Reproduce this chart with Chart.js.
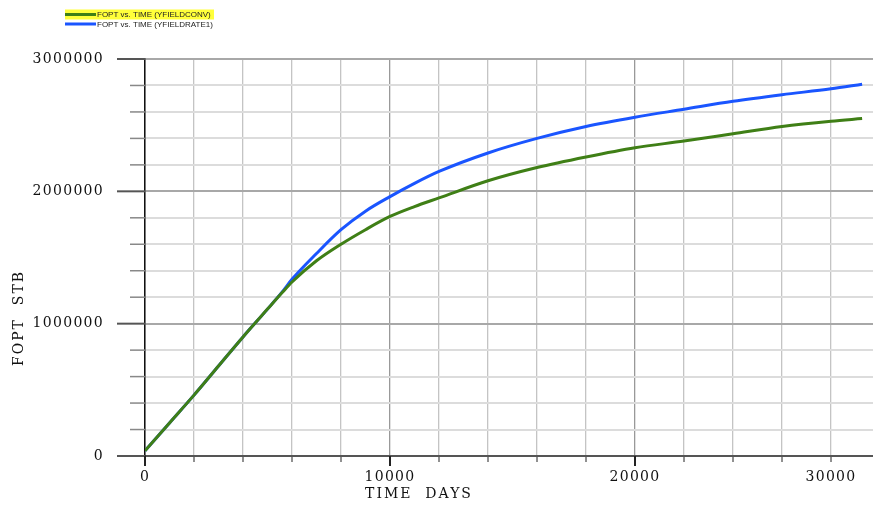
<!DOCTYPE html>
<html>
<head>
<meta charset="utf-8">
<script src="https://cdn.jsdelivr.net/npm/chart.js@4.4.1/dist/chart.umd.min.js"></script>
<style>
  html, body { margin: 0; padding: 0; background: #fff; }
</style>
</head>
<body>
<canvas id="fopt" width="873" height="510"></canvas>
<script>
// time in days
const days = [0, 1000, 2000, 3000, 4000, 5000, 5600, 6000, 7000, 8000, 9000, 10000, 11000, 12000,
  14000, 16000, 18000, 20000, 22000, 24000, 26000, 28000, 29270];
const foptConv = [40000, 250000, 460000, 680000, 900000, 1110000, 1235000, 1315000, 1475000, 1600000,
  1710000, 1810000, 1885000, 1950000, 2080000, 2180000, 2260000, 2330000, 2380000, 2435000, 2490000,
  2530000, 2550000];
const foptRate1 = [40000, 250000, 460000, 680000, 900000, 1110000, 1240000, 1335000, 1530000, 1710000,
  1850000, 1960000, 2060000, 2150000, 2290000, 2400000, 2490000, 2560000, 2620000, 2680000, 2730000,
  2775000, 2810000];

const seriesNames = ['FOPT vs. TIME (YFIELDCONV)', 'FOPT vs. TIME (YFIELDRATE1)'];
const seriesColors = ['#3f7f16', '#1a55ff'];

const xTicks = [0, 2000, 4000, 6000, 8000, 10000, 12000, 14000, 16000, 18000, 20000, 22000, 24000, 26000, 28000];
const xTickLabels = ['0', '', '', '', '', '10000', '', '', '', '', '20000', '', '', '', '30000'];
const yTicks = [0, 200000, 400000, 600000, 800000, 1000000, 1200000, 1400000, 1600000, 1800000,
  2000000, 2200000, 2400000, 2600000, 2800000, 3000000];
const yTickLabels = ['0', '', '', '', '', '1000000', '', '', '', '', '2000000', '', '', '', '', '3000000'];

const serif = "'DejaVu Serif', serif";

function spacing(chart) {
  chart.ctx.letterSpacing = '1.3px';
}

const extras = {
  id: 'extras',
  beforeUpdate: spacing,
  beforeLayout: spacing,
  beforeDraw: spacing,
  afterDraw(chart) {
    const ctx = chart.ctx;
    const xs = chart.scales.x, ys = chart.scales.y;
    const area = chart.chartArea;
    ctx.save();
    // y tick marks
    yTicks.forEach(v => {
      const y = ys.getPixelForValue(v);
      const major = v % 1000000 === 0;
      ctx.beginPath();
      ctx.strokeStyle = major ? '#555' : '#888';
      ctx.lineWidth = major ? 2 : 1.5;
      ctx.moveTo(major ? area.left - 28 : area.left - 15, y);
      ctx.lineTo(area.left, y);
      ctx.stroke();
    });
    // x tick marks
    xTicks.forEach(v => {
      const x = xs.getPixelForValue(v);
      const major = v % 10000 === 0;
      ctx.beginPath();
      ctx.strokeStyle = major ? '#222' : '#555';
      ctx.lineWidth = major ? 2 : 1.3;
      ctx.moveTo(x, area.bottom);
      ctx.lineTo(x, area.bottom + (major ? 10 : 6));
      ctx.stroke();
    });

    // axis titles
    ctx.fillStyle = '#111';
    ctx.font = '14px ' + serif;
    ctx.letterSpacing = '2px';
    ctx.textAlign = 'center';
    ctx.textBaseline = 'middle';
    ctx.fillText('TIME  DAYS', 419, 494);
    ctx.save();
    ctx.translate(19, 318);
    ctx.rotate(-Math.PI / 2);
    ctx.fillText('FOPT  STB', 0, 0);
    ctx.restore();

    // legend
    ctx.letterSpacing = '0px';
    ctx.fillStyle = '#ffff3a';
    ctx.fillRect(65, 9.5, 149, 10);
    ctx.font = "8px 'Liberation Sans', Arial, sans-serif";
    ctx.textAlign = 'left';
    [14.5, 24].forEach((y, i) => {
      ctx.beginPath();
      ctx.strokeStyle = seriesColors[i];
      ctx.lineWidth = 3;
      ctx.moveTo(65, y);
      ctx.lineTo(96, y);
      ctx.stroke();
      ctx.fillStyle = '#222';
      ctx.fillText(seriesNames[i], 97, y + 0.5);
    });
    ctx.restore();
  }
};

new Chart(document.getElementById('fopt'), {
  type: 'line',
  data: {
    labels: days,
    datasets: [{
      label: seriesNames[0],
      data: days.map((d, i) => ({ x: d, y: foptConv[i] })),
      borderColor: seriesColors[0],
      borderWidth: 3,
      pointRadius: 0,
      cubicInterpolationMode: 'monotone'
    }, {
      label: seriesNames[1],
      data: days.map((d, i) => ({ x: d, y: foptRate1[i] })),
      borderColor: seriesColors[1],
      borderWidth: 3,
      pointRadius: 0,
      cubicInterpolationMode: 'monotone'
    }]
  },
  options: {
    responsive: false,
    animation: false,
    layout: {
      padding: { top: 59, left: 0, right: 0, bottom: 0 }
    },
    plugins: {
      legend: { display: false },
      tooltip: { enabled: false }
    },
    scales: {
      x: {
        type: 'linear',
        min: 0,
        max: 29714,
        afterBuildTicks: s => { s.ticks = xTicks.map(v => ({ value: v })); },
        afterFit: s => { s.height = 54; },
        grid: {
          drawTicks: false,
          color: c => c.tick && c.tick.value % 10000 === 0 ? '#999' : '#c4c4c4',
          lineWidth: 1.3
        },
        border: { color: '#555', width: 2 },
        ticks: {
          padding: 13,
          autoSkip: false,
          maxRotation: 0,
          color: '#111',
          font: { family: serif, size: 14 },
          callback: (v, i) => xTickLabels[i]
        }
      },
      y: {
        min: 0,
        max: 3000000,
        afterBuildTicks: s => { s.ticks = yTicks.map(v => ({ value: v })); },
        afterFit: s => { s.width = 145; },
        grid: {
          drawTicks: false,
          color: c => c.tick && c.tick.value % 1000000 === 0 ? '#a8a8a8' : '#dcdcdc',
          lineWidth: 2
        },
        border: { color: '#111', width: 1.5 },
        ticks: {
          padding: 41,
          autoSkip: false,
          color: '#111',
          font: { family: serif, size: 14 },
          callback: (v, i) => yTickLabels[i]
        }
      }
    }
  },
  plugins: [extras]
});
</script>
</body>
</html>
